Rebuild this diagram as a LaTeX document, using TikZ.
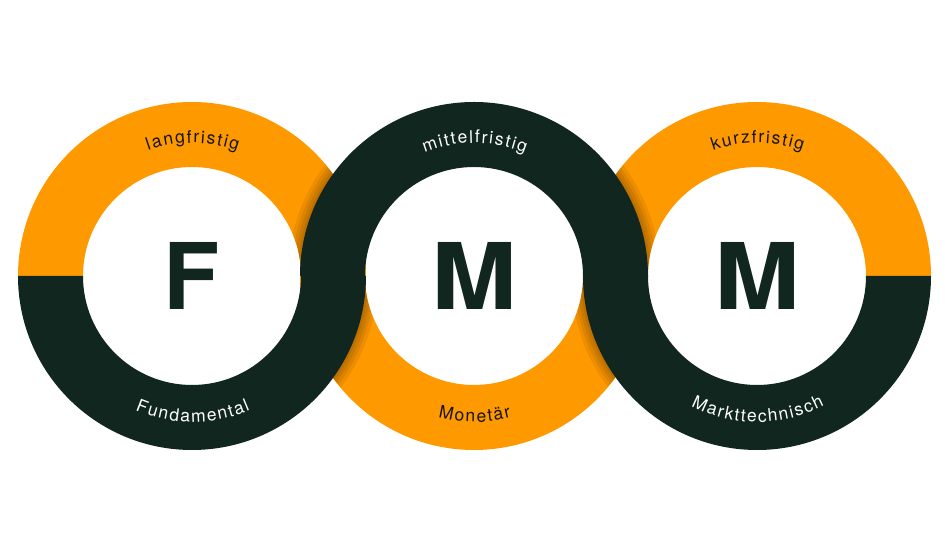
\documentclass[tikz,border=0pt]{standalone}
\usepackage{fontspec}
\setmainfont{TeX Gyre Heros}
\newfontfamily\lblfont{TeX Gyre Heros}
\usetikzlibrary{decorations.text}
\definecolor{fmorange}{HTML}{FF9900}
\definecolor{fmdark}{HTML}{10261F}
\definecolor{lbldark}{HTML}{141414}
\newcommand\halfring[3]{(#1) ++(#2:174) arc[start angle=#2,end angle=#3,radius=174] -- ++(#3:-65) arc[start angle=#3,end angle=#2,radius=109] -- cycle}
\newcommand\lblfmt{\lblfont\fontsize{17.5}{17.5}\selectfont\kern1.6pt}
\tikzset{
  shadowstroke/.style={black, opacity=0.07, line width=#1},
  bigletter/.style={font=\fontsize{92}{92}\selectfont\bfseries, text=fmdark, inner sep=0pt},
  ringlabel/.style={decorate, decoration={text along path, text align=center, text color=#1}}
}
\begin{document}
\begin{tikzpicture}[x=1pt,y=1pt]
\useasboundingbox (0,0) rectangle (945,537);
\fill[white] (0,0) rectangle (945,537);
\coordinate (cL) at (192,261);
\coordinate (cM) at (474,261);
\coordinate (cR) at (757,261);
% middle ring lower half (beneath)
\fill[fmorange] \halfring{cM}{180}{360};
\begin{scope}
  \clip \halfring{cM}{180}{360};
  \foreach \w in {24,17,11,5} {
    \draw[shadowstroke=\w] (cL) circle[radius=174];
    \draw[shadowstroke=\w] (cR) circle[radius=174];
  }
\end{scope}
% outer rings
\fill[fmorange] \halfring{cL}{0}{180};
\fill[fmdark] \halfring{cL}{180}{360};
\fill[fmorange] \halfring{cR}{0}{180};
\fill[fmdark] \halfring{cR}{180}{360};
% shadow of middle upper half
\begin{scope}
  \clip \halfring{cL}{0}{180} \halfring{cR}{0}{180};
  \foreach \w in {24,17,11,5} {
    \draw[shadowstroke=\w] (cM) circle[radius=174];
  }
\end{scope}
\fill[fmdark] \halfring{cM}{0}{180};
% letters
\node[bigletter] (F) at (cL) {F};
\node[bigletter, xscale=1.12] (M1) at (cM) {M};
\node[bigletter, xscale=1.12] (M2) at (cR) {M};
% labels
\path[ringlabel=lbldark, decoration={text={|\lblfmt|langfristig}}] (cL) ++(180:133) arc[start angle=180,end angle=0,radius=133];
\path[ringlabel=white, decoration={text={|\lblfmt|mittelfristig}}] (cM) ++(180:133) arc[start angle=180,end angle=0,radius=133];
\path[ringlabel=lbldark, decoration={text={|\lblfmt|kurzfristig}}] (cR) ++(180:133) arc[start angle=180,end angle=0,radius=133];
\path[ringlabel=white, decoration={text={|\lblfmt|Fundamental}}] (cL) ++(180:146) arc[start angle=180,end angle=360,radius=146];
\path[ringlabel=lbldark, decoration={text={|\lblfmt|Monetär}}] (cM) ++(180:146) arc[start angle=180,end angle=360,radius=146];
\path[ringlabel=white, decoration={text={|\lblfmt|Markttechnisch}}] (cR) ++(180:146) arc[start angle=180,end angle=360,radius=146];
\end{tikzpicture}
\end{document}
